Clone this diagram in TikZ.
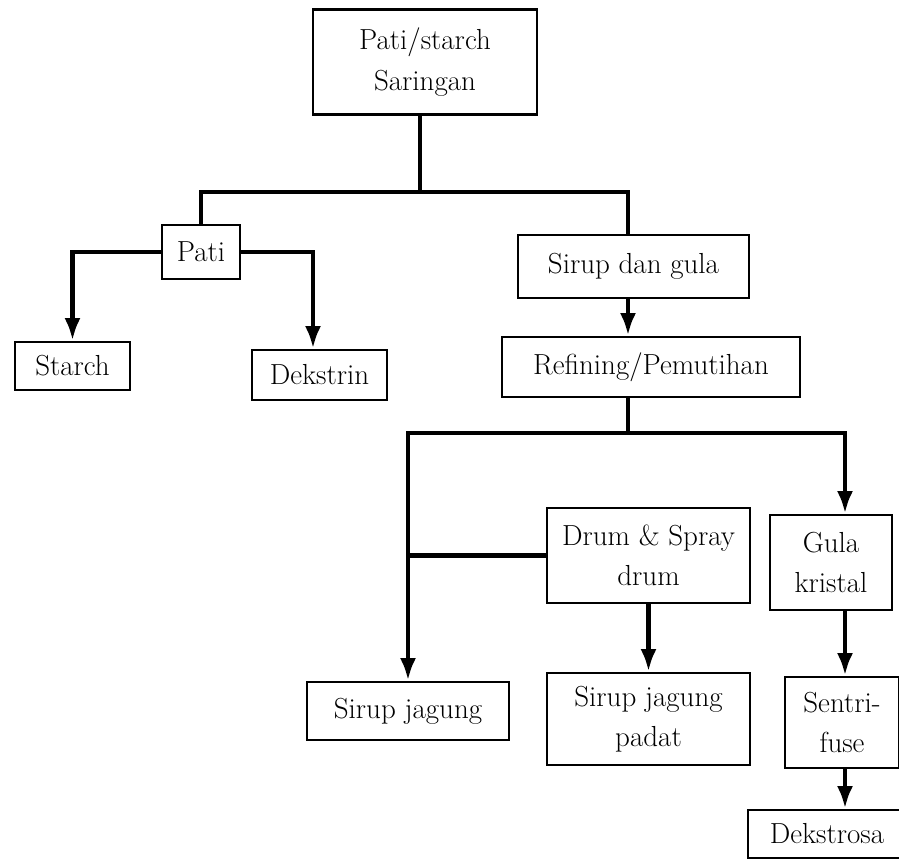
\documentclass[tikz,border=0pt]{standalone}
\usetikzlibrary{arrows.meta,positioning}

\begin{document}
\begin{tikzpicture}[box/.style={draw,line width=1.6pt,align=center,inner sep=0pt,
                       font=\fontsize{16.5}{23}\selectfont},
                    link/.style={line width=2.5pt},
                    flow/.style={link,-{Latex[length=4.5mm,width=3.2mm]}}]
    \useasboundingbox (0,0) rectangle (17.98,-17.2);

    \node[box,minimum width=4.48cm,minimum height=2.1cm]  (start)    at (8.5,-1.24)   {Pati/starch\\Saringan};
    \node[box,minimum width=1.56cm,minimum height=1.08cm] (pati)     at (4.02,-5.04)  {Pati};
    \node[box,minimum width=2.3cm,minimum height=0.96cm]  (starch)   at (1.45,-7.32)  {Starch};
    \node[box,minimum width=2.7cm,minimum height=1cm]     (dekstrin) at (6.39,-7.5)   {Dekstrin};
    \node[box,minimum width=4.62cm,minimum height=1.26cm] (sirup)    at (12.67,-5.33) {Sirup dan gula};
    \node[box,minimum width=5.96cm,minimum height=1.2cm]  (refining) at (13.02,-7.34) {Refining/Pemutihan};
    \node[box,minimum width=4.06cm,minimum height=1.9cm]  (drum)     at (12.97,-11.11) {Drum \& Spray\\drum};
    \node[box,minimum width=2.44cm,minimum height=1.9cm]  (gula)     at (16.62,-11.25) {Gula\\kristal};
    \node[box,minimum width=4.04cm,minimum height=1.16cm] (jagung)   at (8.16,-14.22) {Sirup jagung};
    \node[box,minimum width=4.06cm,minimum height=1.84cm] (padat)    at (12.97,-14.38) {Sirup jagung\\padat};
    \node[box,minimum width=2.28cm,minimum height=1.82cm] (sentri)   at (16.84,-14.45) {Sentri-\\fuse};
    \node[box,minimum width=3.16cm,minimum height=0.96cm] (dekstrosa) at (16.54,-16.68) {Dekstrosa};

    \coordinate (split)  at (8.4,-3.84);
    \coordinate (split2) at (12.56,-8.66);
    \coordinate (col)    at (16.9,0);

    % upper part
    \draw[link] (start.south -| split) -- (split);
    \draw[link] (pati.north) |- (split) -| (sirup.north -| split2);
    \draw[flow] (pati.west) -| (starch.north);
    \draw[flow] (pati.east) -| ([xshift=-1.3mm]dekstrin.north);
    \draw[flow] (sirup.south -| split2) -- (refining.north -| split2);

    % lower part
    \draw[link] (refining.south -| split2) -- (split2);
    \draw[flow] (split2) -| (jagung.north);
    \draw[flow] (split2) -| (col |- gula.north);
    \draw[link] (drum.west) -- (drum.west -| jagung.north);
    \draw[flow] (drum) -- (drum |- padat.north);
    \draw[flow] (col |- gula.south) -- (col |- sentri.north);
    \draw[flow] (col |- sentri.south) -- (col |- dekstrosa.north);
\end{tikzpicture}
\end{document}
